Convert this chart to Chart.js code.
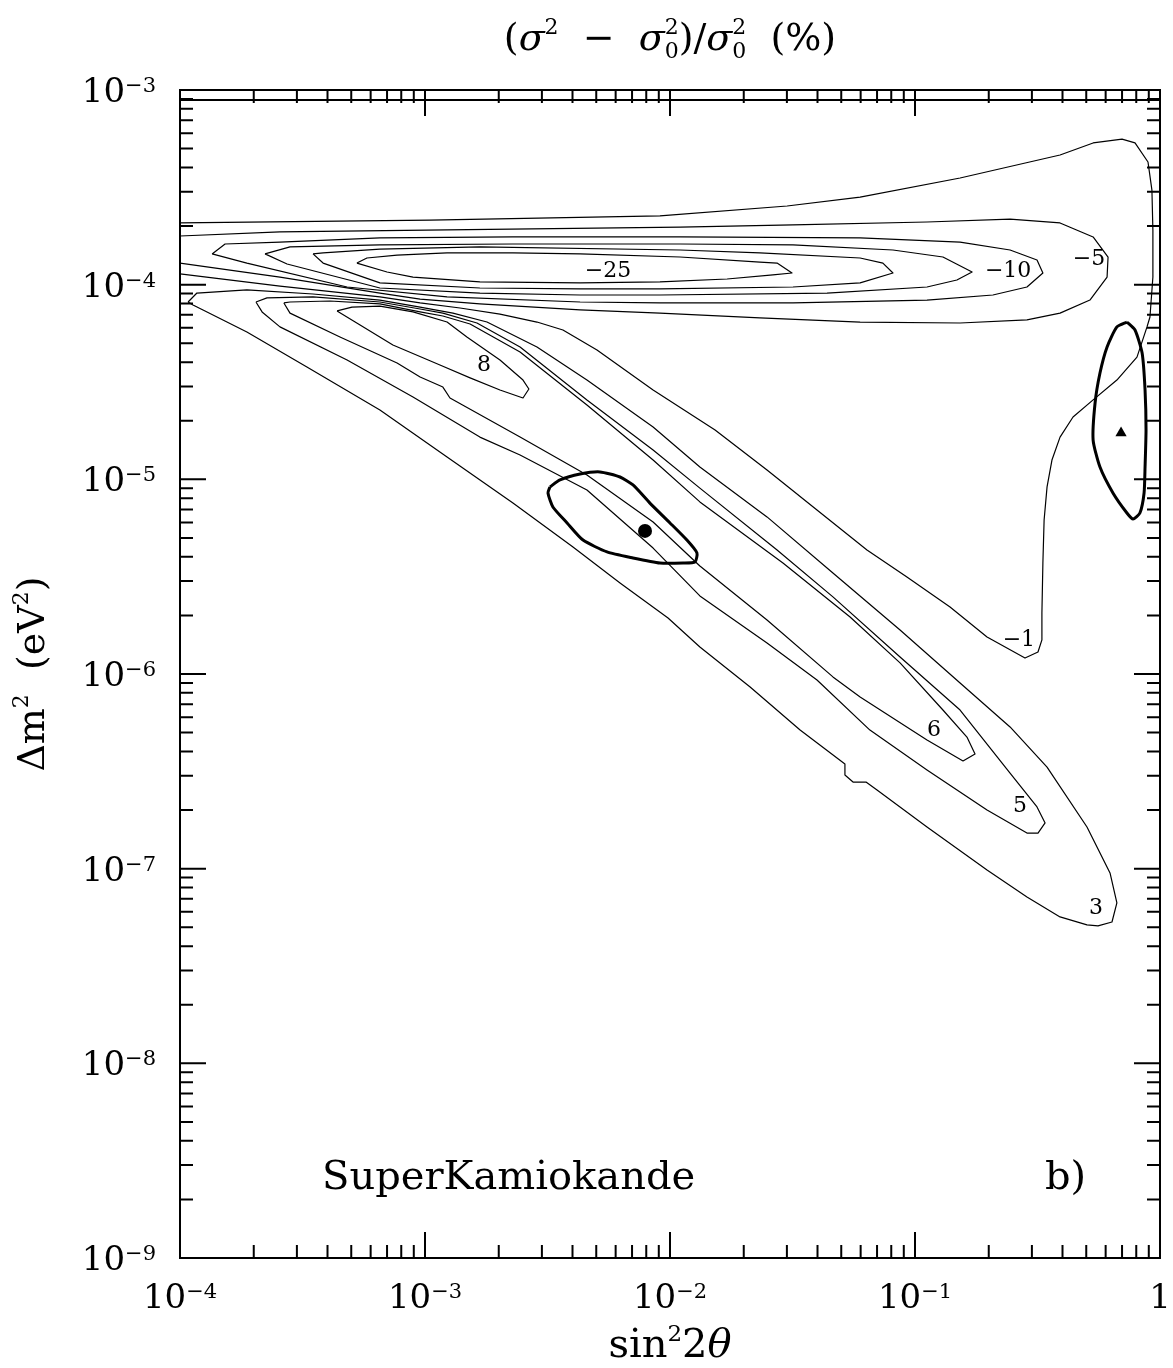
<!DOCTYPE html>
<html>
<head>
<meta charset="utf-8">
<script src="https://cdn.jsdelivr.net/npm/chart.js@4/dist/chart.umd.min.js"></script>
<style>
  html, body { margin: 0; background: #fff; }
  #wrap { width: 1173px; height: 1368px; }
</style>
</head>
<body>
<div id="wrap"><canvas id="chart" width="1173" height="1368"></canvas></div>
<script>
// contour points, as [log10 sin²2θ, log10 Δm²]
const neg25 = [[-3.278,-3.889],[-3.237,-3.863],[-3.114,-3.848],[-2.910,-3.837],[-2.641,-3.837],[-2.367,-3.842],[-1.959,-3.858],[-1.633,-3.884],[-1.563,-3.889],[-1.502,-3.940],[-1.580,-3.950],[-1.767,-3.971],[-2.041,-3.986],[-2.367,-3.991],[-2.776,-3.986],[-3.049,-3.961],[-3.155,-3.935],[-3.278,-3.889]];
const neg20 = [[-3.457,-3.842],[-3.416,-3.837],[-3.184,-3.817],[-2.776,-3.806],[-1.959,-3.822],[-1.633,-3.837],[-1.224,-3.863],[-1.131,-3.889],[-1.090,-3.940],[-1.224,-3.991],[-1.498,-4.012],[-2.041,-4.022],[-2.367,-4.022],[-2.776,-4.017],[-3.184,-3.991],[-3.416,-3.889],[-3.457,-3.842]];
const neg15 = [[-3.653,-3.842],[-3.551,-3.806],[-3.184,-3.796],[-2.641,-3.791],[-1.959,-3.791],[-1.498,-3.796],[-1.090,-3.822],[-0.886,-3.858],[-0.767,-3.935],[-0.829,-3.976],[-0.951,-4.012],[-1.359,-4.043],[-2.041,-4.053],[-2.367,-4.053],[-2.776,-4.043],[-3.184,-4.017],[-3.563,-3.894],[-3.653,-3.842]];
const neg10 = [[-3.869,-3.842],[-3.816,-3.791],[-3.592,-3.781],[-3.184,-3.760],[-2.641,-3.755],[-1.959,-3.755],[-1.224,-3.760],[-0.816,-3.781],[-0.612,-3.822],[-0.502,-3.873],[-0.478,-3.940],[-0.543,-4.012],[-0.682,-4.053],[-0.951,-4.079],[-1.498,-4.094],[-2.041,-4.094],[-2.367,-4.089],[-2.910,-4.063],[-3.318,-4.012],[-3.727,-3.889],[-3.869,-3.842]];
const neg5 = [[-4,-3.750],[-3.592,-3.729],[-2.910,-3.719],[-1.959,-3.704],[-1.498,-3.693],[-0.951,-3.678],[-0.612,-3.663],[-0.408,-3.683],[-0.273,-3.755],[-0.212,-3.858],[-0.216,-3.961],[-0.286,-4.079],[-0.408,-4.146],[-0.543,-4.181],[-0.816,-4.197],[-1.224,-4.192],[-1.633,-4.171],[-2.041,-4.146],[-2.367,-4.130],[-2.776,-4.099],[-3.020,-4.074],[-3.184,-4.043],[-3.592,-3.961],[-4,-3.889]];
const neg1 = [[-4,-3.683],[-2.980,-3.668],[-2.041,-3.647],[-1.522,-3.596],[-1.224,-3.550],[-0.816,-3.452],[-0.408,-3.334],[-0.273,-3.272],[-0.155,-3.252],[-0.102,-3.272],[-0.049,-3.370],[-0.033,-3.514],[-0.029,-3.719],[-0.029,-3.961],[-0.041,-4.166],[-0.053,-4.217],[-0.094,-4.372],[-0.176,-4.490],[-0.273,-4.592],[-0.355,-4.680],[-0.408,-4.783],[-0.441,-4.901],[-0.461,-5.039],[-0.473,-5.209],[-0.478,-5.430],[-0.482,-5.687],[-0.482,-5.825],[-0.498,-5.887],[-0.551,-5.918],[-0.706,-5.810],[-0.857,-5.656],[-1.033,-5.502],[-1.196,-5.363],[-1.400,-5.158],[-1.604,-4.952],[-1.816,-4.747],[-2.069,-4.541],[-2.298,-4.336],[-2.437,-4.233],[-2.543,-4.192],[-2.694,-4.151],[-2.857,-4.120],[-3.020,-4.094],[-3.184,-4.063],[-3.592,-4.007],[-4,-3.945]];
const pos3 = [[-3.967,-4.089],[-3.931,-4.043],[-3.727,-4.027],[-3.457,-4.048],[-3.184,-4.079],[-3.020,-4.115],[-2.886,-4.146],[-2.747,-4.192],[-2.543,-4.320],[-2.339,-4.490],[-2.069,-4.731],[-1.878,-4.937],[-1.604,-5.193],[-1.335,-5.481],[-1.061,-5.774],[-0.816,-6.046],[-0.612,-6.272],[-0.461,-6.478],[-0.298,-6.786],[-0.204,-7.022],[-0.176,-7.176],[-0.196,-7.274],[-0.253,-7.294],[-0.298,-7.289],[-0.408,-7.248],[-0.543,-7.145],[-0.706,-7.007],[-0.951,-6.786],[-1.155,-6.596],[-1.200,-6.555],[-1.253,-6.555],[-1.286,-6.519],[-1.286,-6.462],[-1.469,-6.288],[-1.673,-6.067],[-1.878,-5.861],[-2.008,-5.712],[-2.204,-5.532],[-2.396,-5.348],[-2.641,-5.122],[-2.910,-4.885],[-3.184,-4.644],[-3.482,-4.423],[-3.727,-4.243],[-3.906,-4.130],[-3.947,-4.104],[-3.967,-4.089]];
const pos5 = [[-3.690,-4.089],[-3.645,-4.068],[-3.457,-4.063],[-3.184,-4.089],[-3.020,-4.125],[-2.927,-4.146],[-2.788,-4.197],[-2.612,-4.320],[-2.339,-4.592],[-2.069,-4.849],[-1.878,-5.045],[-1.563,-5.363],[-1.335,-5.604],[-1.061,-5.913],[-0.816,-6.185],[-0.612,-6.509],[-0.502,-6.683],[-0.469,-6.765],[-0.498,-6.817],[-0.543,-6.817],[-0.706,-6.699],[-0.951,-6.493],[-1.184,-6.288],[-1.400,-6.031],[-1.604,-5.841],[-1.878,-5.599],[-2.069,-5.353],[-2.339,-5.055],[-2.612,-4.875],[-2.776,-4.783],[-3.049,-4.577],[-3.318,-4.387],[-3.592,-4.217],[-3.665,-4.140],[-3.690,-4.089]];
const pos6 = [[-3.576,-4.094],[-3.551,-4.089],[-3.388,-4.084],[-3.184,-4.099],[-3.020,-4.140],[-2.927,-4.161],[-2.816,-4.202],[-2.612,-4.346],[-2.339,-4.618],[-2.069,-4.901],[-1.878,-5.116],[-1.539,-5.430],[-1.265,-5.707],[-1.061,-5.943],[-0.886,-6.185],[-0.788,-6.324],[-0.755,-6.411],[-0.804,-6.447],[-0.951,-6.339],[-1.224,-6.118],[-1.335,-6.015],[-1.604,-5.723],[-1.878,-5.445],[-2.069,-5.219],[-2.339,-4.978],[-2.612,-4.783],[-2.898,-4.582],[-2.927,-4.526],[-3.020,-4.474],[-3.114,-4.402],[-3.347,-4.269],[-3.551,-4.146],[-3.576,-4.094]];
const pos8 = [[-3.359,-4.135],[-3.298,-4.115],[-3.184,-4.110],[-3.049,-4.140],[-2.910,-4.192],[-2.829,-4.269],[-2.694,-4.387],[-2.600,-4.490],[-2.576,-4.536],[-2.600,-4.582],[-2.694,-4.541],[-2.816,-4.479],[-2.939,-4.413],[-3.131,-4.310],[-3.265,-4.207],[-3.359,-4.135]];

// thick allowed regions and their best fit points
const allowedSmall = [[-2.490,-5.039],[-2.449,-5.003],[-2.367,-4.973],[-2.286,-4.962],[-2.204,-4.988],[-2.151,-5.029],[-2.082,-5.122],[-2.000,-5.224],[-1.931,-5.312],[-1.890,-5.378],[-1.898,-5.425],[-1.947,-5.430],[-2.041,-5.430],[-2.151,-5.404],[-2.257,-5.373],[-2.355,-5.312],[-2.420,-5.224],[-2.478,-5.142],[-2.498,-5.070],[-2.490,-5.039]];
const allowedLarge = [[-0.135,-4.192],[-0.176,-4.217],[-0.216,-4.320],[-0.245,-4.454],[-0.265,-4.608],[-0.273,-4.798],[-0.245,-4.937],[-0.192,-5.070],[-0.135,-5.173],[-0.110,-5.204],[-0.082,-5.173],[-0.065,-5.070],[-0.061,-4.937],[-0.057,-4.747],[-0.061,-4.541],[-0.073,-4.351],[-0.102,-4.233],[-0.135,-4.192]];
const bestSmall = [-2.102, -5.265];
const bestLarge = [-0.159, -4.762];

// contour level labels
const labelText = ['−25', '−10', '−5', '−1', '8', '6', '5', '3'];
const labelAt = [[-2.253,-3.930],[-0.620,-3.930],[-0.290,-3.868],[-0.576,-5.825],[-2.759,-4.413],[-0.922,-6.288],[-0.571,-6.678],[-0.261,-7.202]];

const xDecades = [-4, -3, -2, -1, 0];
const yDecades = [-9, -8, -7, -6, -5, -4, -3];

const SERIF = '"DejaVu Serif", serif';
const toXY = pts => pts.map(([a, b]) => ({x: 10 ** a, y: 10 ** b}));

const datasets = [neg25, neg20, neg15, neg10, neg5, neg1, pos3, pos5, pos6, pos8].map(pts => ({
    data: toXY(pts), showLine: true, borderColor: '#000', borderWidth: 1.2,
    pointRadius: 0, tension: 0, borderJoinStyle: 'round'
}));
[allowedSmall, allowedLarge].forEach(pts => datasets.push({
    data: toXY(pts), showLine: true, borderColor: '#000', borderWidth: 3,
    pointRadius: 0, tension: 0.2, borderJoinStyle: 'round'
}));
datasets.push({ data: toXY([bestSmall]), pointStyle: 'circle', pointRadius: 7, backgroundColor: '#000', borderColor: '#000', borderWidth: 0 });
datasets.push({ data: toXY([bestLarge]), pointStyle: 'triangle', pointRadius: 6.5, backgroundColor: '#000', borderColor: '#000', borderWidth: 0 });

// draws a run of text pieces: {t, s: size, it: italic, dy, keep: don't advance}
function richWidth(ctx, parts) {
    let w = 0;
    parts.forEach(p => {
        ctx.font = (p.it ? 'italic ' : '') + p.s + 'px ' + SERIF;
        if (!p.keep) w += ctx.measureText(p.t).width;
    });
    return w;
}
function drawRich(ctx, parts, x, y) {
    ctx.textAlign = 'left';
    ctx.textBaseline = 'alphabetic';
    parts.forEach(p => {
        ctx.font = (p.it ? 'italic ' : '') + p.s + 'px ' + SERIF;
        ctx.fillText(p.t, x, y + (p.dy || 0));
        if (!p.keep) x += ctx.measureText(p.t).width;
    });
}
function powerParts(e) {
    if (e === 0) return [{t: '1', s: 34}];
    return [{t: '10', s: 34}, {t: '−' + Math.abs(e), s: 21, dy: -10}];
}

const frame = {
    id: 'frame',
    afterDraw(chart) {
        const {ctx, chartArea: a, scales: {x, y}} = chart;
        ctx.save();
        ctx.strokeStyle = '#000';
        ctx.fillStyle = '#000';
        ctx.lineWidth = 2;
        ctx.strokeRect(a.left, a.top, a.right - a.left, a.bottom - a.top);
        ctx.beginPath();
        ctx.moveTo(a.left, a.top + 10);
        ctx.lineTo(a.right, a.top + 10);
        ctx.stroke();

        // inward ticks on all four sides
        ctx.beginPath();
        xDecades.forEach(e => {
            for (let m = 1; m <= 9; m++) {
                if (e === 0 && m > 1) break;
                const px = x.getPixelForValue(m * 10 ** e);
                const len = m === 1 ? 26 : 13;
                ctx.moveTo(px, a.bottom); ctx.lineTo(px, a.bottom - len);
                ctx.moveTo(px, a.top); ctx.lineTo(px, a.top + len);
            }
        });
        yDecades.forEach(e => {
            for (let m = 1; m <= 9; m++) {
                if (e === -3 && m > 1) break;
                const py = y.getPixelForValue(m * 10 ** e);
                const len = m === 1 ? 26 : 13;
                ctx.moveTo(a.left, py); ctx.lineTo(a.left + len, py);
                ctx.moveTo(a.right, py); ctx.lineTo(a.right - len, py);
            }
        });
        ctx.stroke();

        // tick labels
        xDecades.forEach(e => {
            const parts = powerParts(e);
            const w = richWidth(ctx, parts);
            drawRich(ctx, parts, x.getPixelForValue(10 ** e) - w / 2, a.bottom + 50);
        });
        yDecades.forEach(e => {
            const parts = powerParts(e);
            const w = richWidth(ctx, parts);
            drawRich(ctx, parts, a.left - 24 - w, y.getPixelForValue(10 ** e) + 12);
        });

        // title
        const title = [
            {t: '(', s: 38}, {t: 'σ', s: 38, it: true}, {t: '2', s: 22, dy: -16},
            {t: '  −  ', s: 38}, {t: 'σ', s: 38, it: true}, {t: '2', s: 22, dy: -16, keep: true}, {t: '0', s: 22, dy: 8},
            {t: ')/', s: 38}, {t: 'σ', s: 38, it: true}, {t: '2', s: 22, dy: -16, keep: true}, {t: '0', s: 22, dy: 8},
            {t: '  (%)', s: 38}
        ];
        const cx = (a.left + a.right) / 2;
        drawRich(ctx, title, cx - richWidth(ctx, title) / 2, a.top - 40);

        // x axis title
        const xt = [{t: 'sin', s: 40}, {t: '2', s: 23, dy: -16}, {t: '2', s: 40}, {t: 'θ', s: 40, it: true}];
        drawRich(ctx, xt, cx - richWidth(ctx, xt) / 2, a.bottom + 99);

        // y axis title
        const yt = [{t: 'Δm', s: 38}, {t: '2', s: 22, dy: -16}, {t: '  (eV', s: 38}, {t: '2', s: 22, dy: -16}, {t: ')', s: 38}];
        ctx.save();
        ctx.translate(a.left - 136, (a.top + a.bottom) / 2);
        ctx.rotate(-Math.PI / 2);
        drawRich(ctx, yt, -richWidth(ctx, yt) / 2, 0);
        ctx.restore();

        // panel texts
        drawRich(ctx, [{t: 'SuperKamiokande', s: 40}], a.left + 142, a.bottom - 69);
        drawRich(ctx, [{t: 'b)', s: 40}], a.right - 115, a.bottom - 69);

        // contour level labels
        ctx.font = '22px ' + SERIF;
        ctx.textAlign = 'center';
        ctx.textBaseline = 'middle';
        labelText.forEach((t, i) => {
            const [lx, ly] = labelAt[i];
            ctx.fillText(t, x.getPixelForValue(10 ** lx), y.getPixelForValue(10 ** ly));
        });
        ctx.restore();
    }
};

new Chart(document.getElementById('chart'), {
    type: 'scatter',
    data: { datasets },
    options: {
        responsive: false,
        animation: false,
        layout: { padding: { left: 180, right: 13, top: 90, bottom: 110 } },
        plugins: { legend: { display: false }, tooltip: { enabled: false } },
        scales: {
            x: { type: 'logarithmic', min: 1e-4, max: 1, display: false },
            y: { type: 'logarithmic', min: 1e-9, max: 1e-3, display: false }
        }
    },
    plugins: [frame]
});
</script>
</body>
</html>
